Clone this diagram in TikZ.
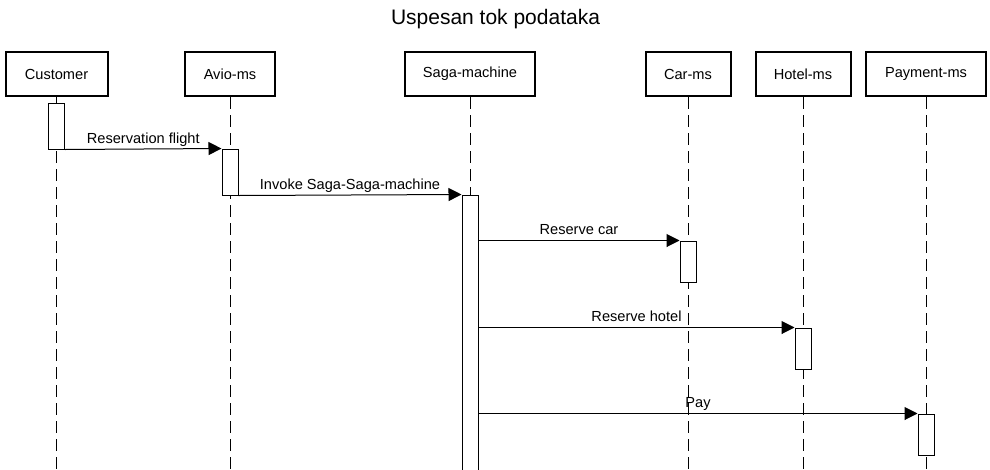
\documentclass[tikz,border=0pt]{standalone}
\usepackage{fontspec}
\setmainfont{Liberation Sans}
\usetikzlibrary{arrows.meta}
\begin{document}
\begin{tikzpicture}[
    x=1pt, y=-1pt,
    actor/.style={rectangle, draw, line width=2pt, minimum height=44pt, inner sep=0pt, font=\fontsize{14.6}{17}\selectfont},
    activation/.style={rectangle, draw, line width=1pt, fill=white, minimum width=16pt, inner sep=0pt},
    lifeline/.style={dash pattern=on 12pt off 6pt, line width=1pt},
    msg/.style={-{Triangle[length=13pt, width=13pt]}, line width=1pt},
    msglabel/.style={anchor=base, yshift=6pt, inner sep=0pt, font=\fontsize{14.6}{17}\selectfont}
]
    \useasboundingbox (0,0) rectangle (990,469);

    \node[anchor=base, font=\fontsize{21}{25}\selectfont] (title) at (495.5,24) {Uspesan tok podataka};

    \node[actor, minimum width=102pt] (cust) at (56.5,74) {Customer};
    \node[actor, minimum width=90pt] (avio) at (230,74) {Avio-ms};
    \node[actor, minimum width=130pt] (saga) at (470,74) {Saga-machine};
    \node[actor, minimum width=85pt] (car) at (688,74) {Car-ms};
    \node[actor, minimum width=95pt] (hotel) at (803,74) {Hotel-ms};
    \node[actor, minimum width=120pt] (pay) at (926,74) {Payment-ms};

    \coordinate (bottom) at (0,472);
    \draw[lifeline] (cust.south) -- (cust.south |- bottom);
    \draw[lifeline] (avio.south) -- (avio.south |- bottom);
    \draw[lifeline] (saga.south) -- (saga.south |- bottom);
    \draw[lifeline] (car.south) -- (car.south |- bottom);
    \draw[lifeline] (hotel.south) -- (hotel.south |- bottom);
    \draw[lifeline] (pay.south) -- (pay.south |- bottom);

    \node[activation, minimum height=46pt] (custact) at (56.5,126) {};
    \node[activation, minimum height=46pt] (avioact) at (230,172) {};
    \node[activation, minimum height=285pt] (sagaact) at (470,337.5) {};
    \node[activation, minimum height=41pt] (caract) at (688,261.5) {};
    \node[activation, minimum height=41pt] (hotelact) at (803,348.5) {};
    \node[activation, minimum height=41pt] (payact) at (926,434.5) {};

    \draw[msg] (custact.south east) -- node[msglabel] {Reservation flight} (avioact.north west);
    \draw[msg] (avioact.south east) -- node[msglabel] {Invoke Saga-Saga-machine} (sagaact.north west);
    \draw[msg] (caract.north west -| sagaact.east) -- node[msglabel] {Reserve car} (caract.north west);
    \draw[msg] (hotelact.north west -| sagaact.east) -- node[msglabel] {Reserve hotel} (hotelact.north west);
    \draw[msg] (payact.north west -| sagaact.east) -- node[msglabel] {Pay} (payact.north west);
\end{tikzpicture}
\end{document}
